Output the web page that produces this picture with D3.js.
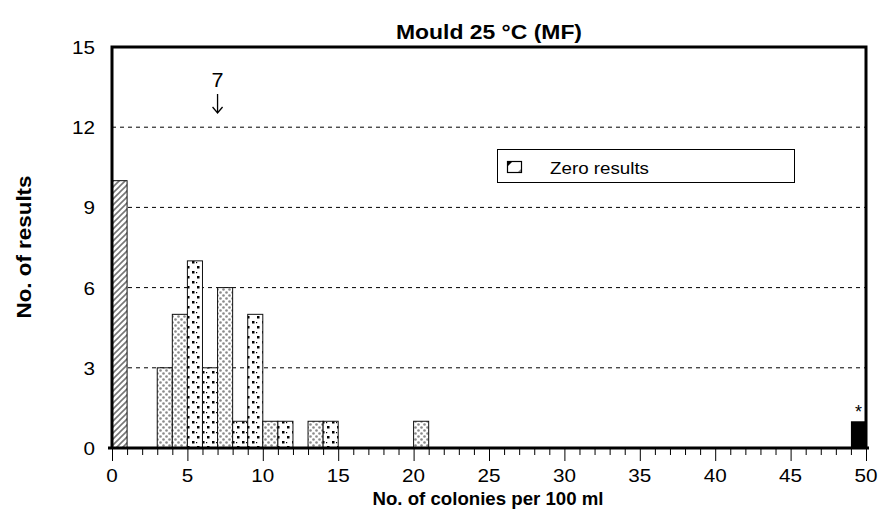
<!DOCTYPE html>
<html><head><meta charset="utf-8">
<script src="https://cdn.jsdelivr.net/npm/d3@7"></script>
<style>body{margin:0;background:#fff}text{font-family:Arial,"Liberation Sans",sans-serif}</style>
</head><body><svg id="c" width="880" height="517"></svg>
<script>
const title = "Mould 25 °C (MF)";
const xLabel = "No. of colonies per 100 ml";
const yLabel = "No. of results";
const binStart = [3,4,5,6,7,8,9,10,11,13,14,20];
const counts   = [3,5,7,3,6,1,5,1,1,1,1,1];
const patterns = ["gray","gray","black","black","gray","black","black","gray","black","gray","black","gray"];
const zeroBin = [0, 10];      // [start, count]
const outlierBin = [49, 1];   // [start, count]
const xTicks = [0,5,10,15,20,25,30,35,40,45,50];
const yTicks = [0,3,6,9,12,15];
const gridVals = [3,6,9,12];
const medianVal = 7;
const legendLabel = "Zero results";

const svg = d3.select("#c");
const x = d3.scaleLinear().domain([0,50]).range([112,866]);
const y = d3.scaleLinear().domain([0,15]).range([448,47]);

const defs = svg.append("defs");
const ph = defs.append("pattern").attr("id","hatch").attr("patternUnits","userSpaceOnUse").attr("width",6).attr("height",6);
ph.append("rect").attr("width",6).attr("height",6).attr("fill","#fff");
ph.append("path").attr("d","M-1,7 L7,-1 M-1,1 L1,-1 M5,7 L7,5").attr("stroke","#777").attr("stroke-width",1.6);
const pg = defs.append("pattern").attr("id","gray").attr("patternUnits","userSpaceOnUse").attr("width",6).attr("height",6);
pg.append("rect").attr("width",6).attr("height",6).attr("fill","#fff");
pg.append("circle").attr("cx",1.5).attr("cy",1.5).attr("r",1.3).attr("fill","#8a8a8a");
pg.append("circle").attr("cx",4.5).attr("cy",4.5).attr("r",1.3).attr("fill","#8a8a8a");
const pb = defs.append("pattern").attr("id","black").attr("patternUnits","userSpaceOnUse").attr("width",10).attr("height",10);
pb.append("rect").attr("width",10).attr("height",10).attr("fill","#fff");
pb.append("rect").attr("x",2).attr("y",1).attr("width",2.5).attr("height",2.5).attr("fill","#000");
pb.append("rect").attr("x",7).attr("y",6).attr("width",2.5).attr("height",2.5).attr("fill","#000");
pb.append("rect").attr("x",6).attr("y",2).attr("width",1.2).attr("height",1.2).attr("fill","#000");

svg.append("g").selectAll("line").data(gridVals).join("line")
  .attr("x1",x(0)).attr("x2",x(50)).attr("y1",d=>y(d)).attr("y2",d=>y(d))
  .attr("stroke","#000").attr("stroke-width",1).attr("stroke-dasharray","4,4");

const bars = binStart.map((s,i)=>({s, c:counts[i], p:patterns[i]}));
svg.append("g").selectAll("rect").data(bars).join("rect")
  .attr("x",d=>x(d.s)).attr("width",d=>x(d.s+1)-x(d.s))
  .attr("y",d=>y(d.c)).attr("height",d=>y(0)-y(d.c))
  .attr("fill",d=>`url(#${d.p})`).attr("stroke","#111").attr("stroke-width",1);

svg.append("rect").attr("x",x(zeroBin[0])).attr("width",x(zeroBin[0]+1)-x(zeroBin[0]))
  .attr("y",y(zeroBin[1])).attr("height",y(0)-y(zeroBin[1]))
  .attr("fill","url(#hatch)").attr("stroke","#111").attr("stroke-width",1);

svg.append("rect").attr("x",x(outlierBin[0])).attr("width",x(outlierBin[0]+1)-x(outlierBin[0]))
  .attr("y",y(outlierBin[1])).attr("height",y(0)-y(outlierBin[1]))
  .attr("fill","#000");
svg.append("text").attr("x",x(outlierBin[0]+0.5)).attr("y",y(outlierBin[1])-3)
  .attr("text-anchor","middle").attr("font-size",18).text("*");

svg.append("path").attr("d",`M${x(0)},${y(0)} V${y(15)} H${x(50)} V${y(0)}`)
  .attr("fill","none").attr("stroke","#000").attr("stroke-width",3);

const xAxis = d3.axisBottom(x).tickValues(d3.range(0,51)).tickSize(6).tickFormat("");
const gx = svg.append("g").attr("transform",`translate(0,${y(0)})`).call(xAxis);
gx.select(".domain").remove();
gx.selectAll(".tick line").attr("stroke","#000").attr("y2",d=>d%5===0?13:7);
svg.append("line").attr("x1",x(0)-4).attr("x2",x(50)+3).attr("y1",y(0)).attr("y2",y(0))
  .attr("stroke","#000").attr("stroke-width",3);
svg.append("g").selectAll("text").data(xTicks).join("text")
  .attr("x",d=>x(d)).attr("y",482).attr("text-anchor","middle").attr("font-size",18.5)
  .attr("textLength",d=>String(d).length*11.5).attr("lengthAdjust","spacingAndGlyphs").text(d=>d);

svg.append("g").selectAll("text").data(yTicks).join("text")
  .attr("x",95).attr("y",d=>y(d)+7).attr("text-anchor","end").attr("font-size",18.5)
  .attr("textLength",d=>String(d).length*11.5).attr("lengthAdjust","spacingAndGlyphs").text(d=>d);

svg.append("text").attr("x",489).attr("y",39).attr("text-anchor","middle")
  .attr("font-size",20).attr("font-weight","bold")
  .attr("textLength",186).attr("lengthAdjust","spacingAndGlyphs").text(title);
svg.append("text").attr("x",488).attr("y",505).attr("text-anchor","middle")
  .attr("font-size",18.5).attr("font-weight","bold")
  .attr("textLength",231).attr("lengthAdjust","spacingAndGlyphs").text(xLabel);
svg.append("text").attr("transform","translate(31,247) rotate(-90)").attr("text-anchor","middle")
  .attr("font-size",20).attr("font-weight","bold")
  .attr("textLength",143).attr("lengthAdjust","spacingAndGlyphs").text(yLabel);

const mx = x(medianVal);
svg.append("text").attr("x",mx).attr("y",87).attr("text-anchor","middle").attr("font-size",20)
  .attr("textLength",12).attr("lengthAdjust","spacingAndGlyphs").text(medianVal);
svg.append("path").attr("d",`M${mx},94 V113 M${mx-5},107 L${mx},113 L${mx+5},107`)
  .attr("fill","none").attr("stroke","#000").attr("stroke-width",1.3);

svg.append("rect").attr("x",497.5).attr("y",149.5).attr("width",297).attr("height",33)
  .attr("fill","#fff").attr("stroke","#000").attr("stroke-width",1);
svg.append("rect").attr("x",507.5).attr("y",161.5).attr("width",14).attr("height",11)
  .attr("fill","#fff").attr("stroke","#000").attr("stroke-width",1.2);
svg.append("path").attr("d","M508,162 L512,162 L508,166 Z").attr("fill","#000");
svg.append("path").attr("d","M521,169 L521,172 L518,172 Z").attr("fill","#777");
svg.append("text").attr("x",550).attr("y",174).attr("font-size",16.5)
  .attr("textLength",99).attr("lengthAdjust","spacingAndGlyphs").text(legendLabel);
</script></body></html>
